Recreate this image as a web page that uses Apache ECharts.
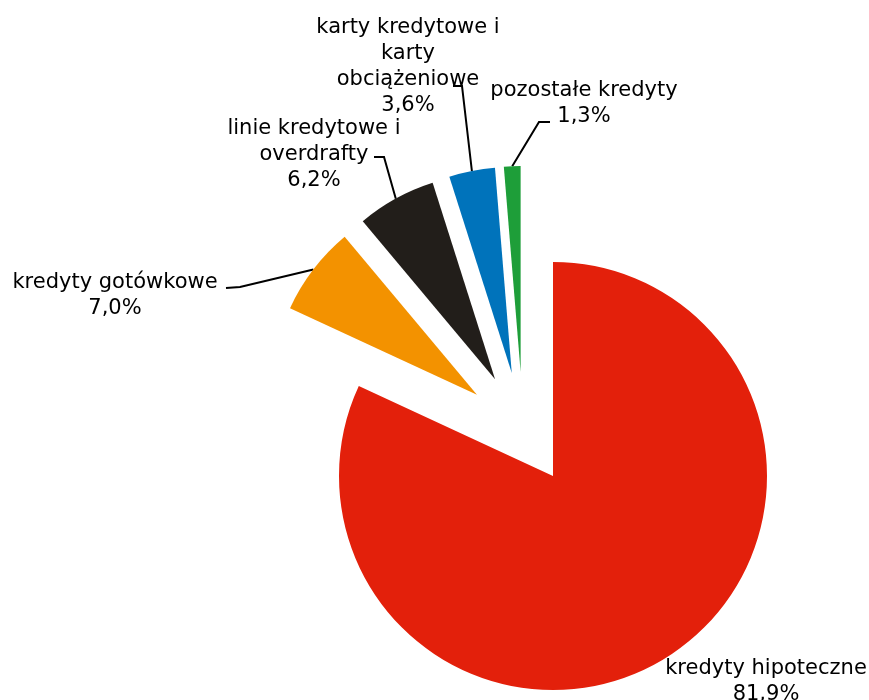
<!DOCTYPE html>
<html>
<head>
<meta charset="utf-8">
<script src="https://cdn.jsdelivr.net/npm/echarts@6/dist/echarts.min.js"></script>
<style>
  html, body { margin: 0; padding: 0; background: #fff; }
  #chart { width: 869px; height: 700px; }
</style>
</head>
<body>
<div id="chart"></div>
<script>
const categories = [
  'kredyty hipoteczne',
  'kredyty gotówkowe',
  'linie kredytowe i\noverdrafty',
  'karty kredytowe i\nkarty\nobciążeniowe',
  'pozostałe kredyty',
]
const shares = [81.9, 7.0, 6.2, 3.6, 1.3]
const colors = ['#e3200b', '#f39200', '#221e1a', '#0073bb', '#1e9e39']

// label anchor (center x, top y) per slice
const labelPos = [
  [766, 656],
  [115, 270],
  [314, 116],
  [408, 15],
  [584, 78],
]
// leader line elbow and end point per slice (null = no line)
const leaderPts = [
  null,
  [[240, 287], [226, 288]],
  [[384, 157], [374, 157]],
  [[462, 86], [453, 86]],
  [[539, 122], [550, 122]],
]

const fmt = (v) => v.toFixed(1).replace('.', ',') + '%'

const chart = echarts.init(document.getElementById('chart'))

const total = shares.reduce((a, b) => a + b, 0)
// small slices are pulled out together, then each one along its own bisector
const groupCenter = [523, 430]
const explode = 58
let acc = 0
const centers = shares.map((v, i) => {
  const mid = ((acc + v / 2) / total) * Math.PI * 2
  acc += v
  if (i === 0) return [553, 476]
  return [groupCenter[0] + explode * Math.sin(mid), groupCenter[1] - explode * Math.cos(mid)]
})

const baseLabel = {
  show: true,
  position: 'outside',
  color: '#000',
  fontFamily: 'DejaVu Sans',
  fontSize: 21,
  lineHeight: 26,
  align: 'center',
  formatter: (p) => p.name + '\n' + fmt(p.value),
}

const layoutFor = (params) => {
  const pos = labelPos[params.dataIndex]
  const out = { x: pos[0], y: pos[1], align: 'center', verticalAlign: 'top' }
  const lp = leaderPts[params.dataIndex]
  if (lp && params.labelLinePoints) {
    out.labelLinePoints = [params.labelLinePoints[0], lp[0], lp[1]]
  }
  return out
}

chart.setOption({
  animation: false,
  series: shares.map((_, k) => ({
    type: 'pie',
    center: centers[k],
    radius: k === 0 ? 214 : 206,
    startAngle: 90,
    clockwise: true,
    avoidLabelOverlap: false,
    emphasis: { disabled: true },
    labelLayout: layoutFor,
    data: categories.map((name, i) => ({
      name,
      value: shares[i],
      itemStyle: { color: i === k ? colors[i] : 'rgba(0,0,0,0)' },
      label: i === k ? baseLabel : { show: false },
      labelLine: i === k && k > 0
        ? { show: true, length: 20, length2: 10, lineStyle: { color: '#000', width: 2 } }
        : { show: false },
    })),
  })),
})
</script>
</body>
</html>
